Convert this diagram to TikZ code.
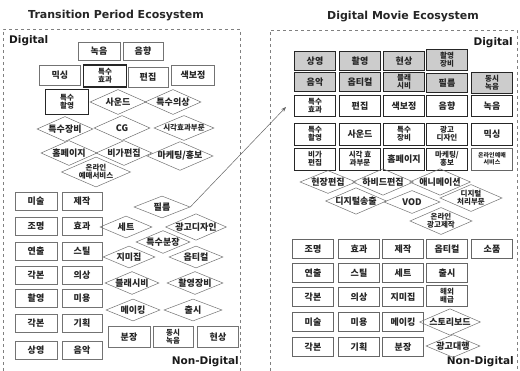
\documentclass[tikz,border=0pt]{standalone}
\usepackage{fontspec}
\setmainfont{Noto Sans CJK KR}
\newfontfamily\tf{DejaVu Sans}
\usetikzlibrary{shapes.geometric,arrows.meta}
\tikzset{
  base/.style={inner sep=0pt, align=center, font=\bfseries\fontsize{9}{9.5}\selectfont, text=black!85},
  bx/.style={base, rectangle, draw=black!55, line width=0.6pt, minimum width=40pt, minimum height=18pt},
  bxt/.style={bx, draw=black!85, line width=1.1pt},
  two/.style={font=\bfseries\fontsize{7.5}{8}\selectfont},
  rbx/.style={bx, draw=black!85, line width=0.8pt, minimum width=41pt, minimum height=21pt},
  rsh/.style={rbx, fill=black!20, minimum height=19pt},
  nbx/.style={bx, draw=black!60, minimum width=41pt, minimum height=19pt},
  dia/.style={base, diamond, draw=black!55, line width=0.5pt, minimum width=56pt, minimum height=25pt, aspect=2.3},
  panel/.style={draw=black!50, dashed, line width=0.5pt},
  ttl/.style={inner sep=0pt, text=black!85, font=\tf\bfseries\fontsize{11}{11}\selectfont},
  lab/.style={inner sep=0pt, text=black!90, font=\tf\bfseries\fontsize{10.5}{10.5}\selectfont},
}
\begin{document}
\begin{tikzpicture}[x=1pt,y=-1pt]
\useasboundingbox (0,0) rectangle (520,371);
\fill[white] (0,0) rectangle (520,371);
% panels
\draw[panel] (3,371) -- (3,29) -- (240,29) -- (240,371);
\draw[panel] (270,371) -- (270,30) -- (517,30) -- (517,371);
% titles
\node[ttl] (t1) at (116,16) {Transition Period Ecosystem};
\node[ttl] (t2) at (403,17) {Digital Movie Ecosystem};
\node[lab, anchor=west] (dL) at (9,41) {Digital};
\node[lab, anchor=east] (dR) at (513,43) {Digital};
\node[lab, anchor=east] (nL) at (239,362) {Non-Digital};
\node[lab, anchor=east] (nR) at (514,362) {Non-Digital};
% ---------- left digital ----------
\node[bx, minimum width=42pt] (l1) at (99,51) {녹음};
\node[bx] (l2) at (143,51) {음향};
\node[bx, minimum width=41pt, minimum height=20pt] (l3) at (60,75) {믹싱};
\node[bxt, two, minimum width=43pt, minimum height=22pt] (l4) at (105,76) {특수\\효과};
\node[bx, minimum height=20pt] (l5) at (148,77) {편집};
\node[bx, minimum width=43pt, minimum height=20pt] (l6) at (193,75) {색보정};
\node[bxt, two, minimum width=43pt, minimum height=25pt] (l7) at (67,102) {특수\\촬영};
\node[dia] (ld1) at (118,102) {사운드};
\node[dia] (ld2) at (173,102) {특수의상};
\node[dia] (ld3) at (65,129) {특수장비};
\node[dia] (ld4) at (122,128) {CG};
\node[dia, minimum width=60pt, font=\bfseries\fontsize{7.5}{8}\selectfont] (ld5) at (184,128) {시각효과부문};
\node[dia] (ld6) at (69,153) {홈페이지};
\node[dia] (ld7) at (124,153) {비가편집};
\node[dia, minimum width=60pt] (ld8) at (180,156) {마케팅/홍보};
\node[dia, two, minimum width=52pt, minimum height=27pt] (ld9) at (96,172) {온라인\\예매서비스};
% ---------- left non-digital ----------
\node[bx, minimum width=42pt] (m1) at (36,201) {미술};
\node[bx, minimum width=42pt] (m2) at (36,226) {조명};
\node[bx, minimum width=42pt] (m3) at (36,251) {연출};
\node[bx, minimum width=42pt] (m4) at (36,275) {각본};
\node[bx, minimum width=42pt] (m5) at (36,298) {촬영};
\node[bx, minimum width=42pt] (m6) at (36,323) {각본};
\node[bx, minimum width=42pt] (m7) at (36,350) {상영};
\node[bx] (n1) at (82,201) {제작};
\node[bx] (n2) at (82,226) {효과};
\node[bx] (n3) at (82,251) {스틸};
\node[bx] (n4) at (82,275) {의상};
\node[bx] (n5) at (82,298) {미용};
\node[bx] (n6) at (82,323) {기획};
\node[bx] (n7) at (82,350) {음악};
\node[dia, minimum width=56pt, minimum height=22pt] (p1) at (162,207) {필름};
\node[dia, minimum width=52pt, minimum height=22pt] (p2) at (126,227) {세트};
\node[dia, minimum width=58pt, minimum height=22pt] (p3) at (196,227) {광고디자인};
\node[dia, minimum width=54pt, minimum height=22pt] (p4) at (163,242) {특수분장};
\node[dia, minimum width=52pt, minimum height=22pt] (p5) at (129,257) {지미집};
\node[dia, minimum width=54pt, minimum height=22pt] (p6) at (196,257) {옵티컬};
\node[dia, minimum width=54pt, minimum height=22pt] (p7) at (132,283) {블래시비};
\node[dia, minimum width=56pt, minimum height=22pt] (p8) at (195,283) {촬영장비};
\node[dia, minimum width=54pt, minimum height=22pt] (p9) at (133,310) {메이킹};
\node[dia, minimum width=58pt, minimum height=22pt] (p10) at (193,310) {출시};
\node[bx, minimum width=42pt, minimum height=21pt] (q1) at (129,337) {분장};
\node[bx, two, minimum height=21pt] (q2) at (173,337) {동시\\녹음};
\node[bx, minimum width=41pt, minimum height=21pt] (q3) at (218,337) {현상};
% ---------- right digital ----------
\node[rsh] (r11) at (315,61) {상영};
\node[rsh] (r12) at (360,61) {촬영};
\node[rsh] (r13) at (404,61) {현상};
\node[rsh, two, minimum height=21pt] (r14) at (447,60) {촬영\\장비};
\node[rsh] (r21) at (315,82) {음악};
\node[rsh] (r22) at (360,82) {옵티컬};
\node[rsh, two] (r23) at (404,82) {블래\\시비};
\node[rsh] (r24) at (447,83) {필름};
\node[rsh, two, minimum height=21pt] (r25) at (492,83) {동시\\녹음};
\node[rbx, two] (r31) at (315,106) {특수\\효과};
\node[rbx] (r32) at (360,106) {편집};
\node[rbx] (r33) at (404,106) {색보정};
\node[rbx] (r34) at (447,106) {음향};
\node[rbx] (r35) at (492,106) {녹음};
\node[rbx, two, minimum height=22pt] (r41) at (315,134) {특수\\촬영};
\node[rbx, minimum height=22pt] (r42) at (360,134) {사운드};
\node[rbx, two, minimum height=22pt] (r43) at (404,134) {특수\\장비};
\node[rbx, two, minimum height=22pt] (r44) at (447,134) {광고\\디자인};
\node[rbx, minimum height=22pt] (r45) at (492,134) {믹싱};
\node[rbx, two, minimum height=22pt] (r51) at (315,159) {비가\\편집};
\node[rbx, two, minimum height=22pt] (r52) at (360,159) {시각 효\\과부문};
\node[rbx, minimum height=22pt] (r53) at (404,159) {홈페이지};
\node[rbx, two, minimum height=22pt] (r54) at (447,159) {마케팅/\\홍보};
\node[rbx, minimum height=22pt, font=\bfseries\fontsize{6}{6.5}\selectfont, draw=black!60, line width=0.6pt] (r55) at (492,159) {온라인예매\\서비스};
\node[dia, minimum width=56pt, minimum height=21pt] (s1) at (328,182) {현장편집};
\node[dia, minimum width=56pt, minimum height=21pt] (s2) at (383,182) {하비드편집};
\node[dia, minimum width=56pt, minimum height=21pt] (s3) at (440,182) {애니메이션};
\node[dia, minimum width=56pt, minimum height=21pt] (s4) at (356,201) {디지털송출};
\node[dia, minimum width=56pt, minimum height=23pt] (s5) at (412,202) {VOD};
\node[dia, two, minimum width=58pt, minimum height=25pt] (s6) at (471,198) {디지털\\처리부문};
\node[dia, two, minimum width=56pt, minimum height=25pt] (s7) at (441,221) {온라인\\광고제작};
% ---------- right non-digital ----------
\node[nbx] (u11) at (313,249) {조명};
\node[nbx] (u12) at (359,249) {효과};
\node[nbx] (u13) at (403,249) {제작};
\node[nbx] (u14) at (447,249) {옵티컬};
\node[nbx] (u15) at (492,249) {소품};
\node[nbx] (u21) at (313,273) {연출};
\node[nbx] (u22) at (359,273) {스틸};
\node[nbx] (u23) at (403,273) {세트};
\node[nbx] (u24) at (447,273) {출시};
\node[nbx] (u31) at (313,297) {각본};
\node[nbx] (u32) at (359,297) {의상};
\node[nbx] (u33) at (403,297) {지미집};
\node[nbx, two, minimum height=21pt] (u34) at (447,296) {해외\\배급};
\node[nbx] (u41) at (313,322) {미술};
\node[nbx] (u42) at (359,322) {미용};
\node[nbx] (u43) at (403,322) {메이킹};
\node[dia, minimum width=56pt, minimum height=22pt] (u44) at (450,322) {스토리보드};
\node[nbx] (u51) at (313,347) {각본};
\node[nbx] (u52) at (359,347) {기획};
\node[nbx] (u53) at (403,347) {분장};
\node[dia, minimum width=54pt, minimum height=22pt] (u54) at (453,346) {광고대행};
% arrow
\coordinate (tip) at (286,107);
\draw[black!60, line width=0.5pt, -{Stealth[length=5pt]}] (p1.east) -- (tip);
\end{tikzpicture}
\end{document}
